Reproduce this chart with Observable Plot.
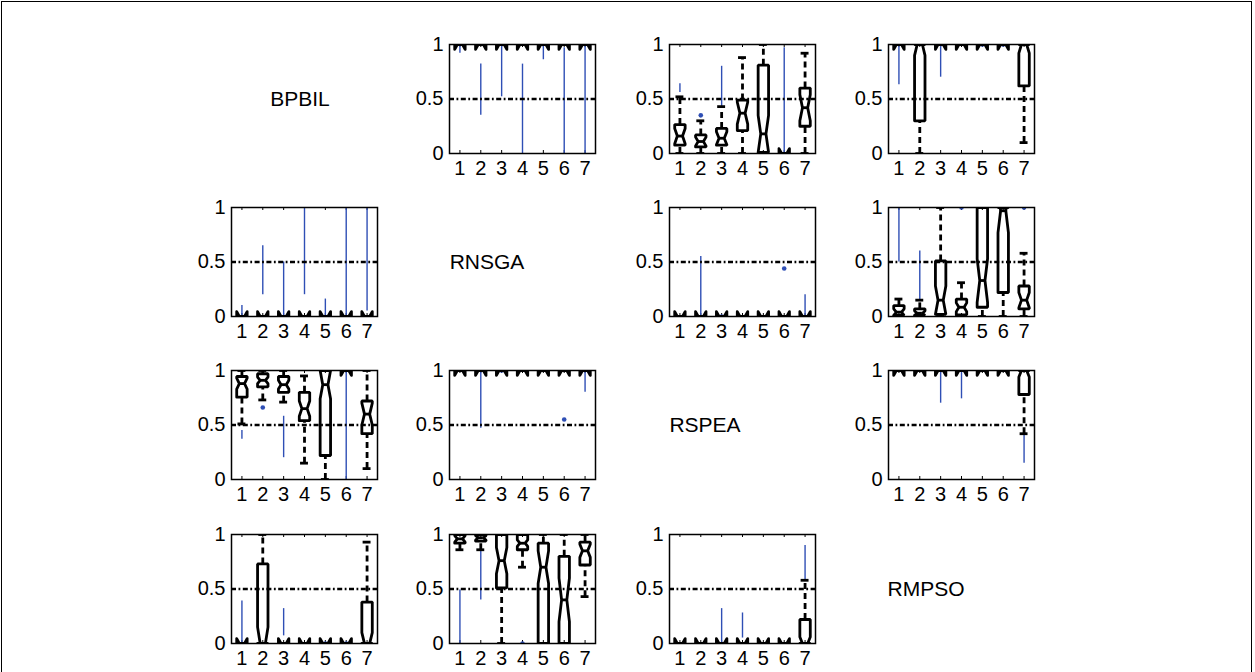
<!DOCTYPE html>
<html><head><meta charset="utf-8">
<script src="https://cdn.jsdelivr.net/npm/d3@7"></script>
<script src="https://cdn.jsdelivr.net/npm/@observablehq/plot@0.6"></script>
<style>
html,body{margin:0;padding:0;background:#fff;}
#fig{position:relative;width:1255px;height:672px;overflow:hidden;font-family:"Liberation Sans",Arial,sans-serif;background:#fff;}
.panel{position:absolute;}
.panel svg{overflow:visible;}
.name{position:absolute;font-size:21px;color:#000;transform:translate(-50%,-50%);white-space:nowrap;}
#border{position:absolute;left:1px;top:1px;width:1251px;height:720px;border:1.5px solid #000;box-sizing:border-box;}
</style></head><body><div id="fig"></div>
<script>
// ---------------- data ----------------
const algorithms = ["BPBIL", "RNSGA", "RSPEA", "RMPSO"];
const groups = [1, 2, 3, 4, 5, 6, 7];
const yTicks = [0, 0.5, 1];
const yTickLabels = ["0", "0.5", "1"];
// grid cell of each panel (row, column)
const panelRows = [0, 0, 0, 1, 1, 1, 2, 2, 2, 3, 3, 3];
const panelCols = [1, 2, 3, 0, 2, 3, 0, 1, 3, 0, 1, 2];
// box statistics, one row of 7 groups per panel
const q1 = [
  [1, 1, 1, 1, 1, 1, 1],
  [0.076, 0.06, 0.076, 0.21, 0.01, 0, 0.25],
  [1, 0.30, 1, 1, 1, 1, 0.62],
  [0, 0, 0, 0, 0, 0, 0],
  [0, 0, 0, 0, 0, 0, 0],
  [0.01, 0.01, 0.02, 0.015, 0.085, 0.22, 0.07],
  [0.755, 0.85, 0.80, 0.54, 0.22, 1, 0.42],
  [1, 1, 1, 1, 1, 1, 1],
  [1, 1, 1, 1, 1, 1, 0.78],
  [0, 0, 0, 0, 0, 0, 0],
  [0.92, 0.94, 0.51, 0.86, 0, 0, 0.72],
  [0, 0, 0, 0, 0, 0, 0]
];
const med = [
  [1, 1, 1, 1, 1, 1, 1],
  [0.16, 0.11, 0.14, 0.37, 0.18, 0, 0.42],
  [1, 1, 1, 1, 1, 1, 1],
  [0, 0, 0, 0, 0, 0, 0],
  [0, 0, 0, 0, 0, 0, 0],
  [0.04, 0.03, 0.15, 0.085, 0.33, 0.97, 0.15],
  [0.88, 0.91, 0.87, 0.65, 0.87, 1, 0.6],
  [1, 1, 1, 1, 1, 1, 1],
  [1, 1, 1, 1, 1, 1, 1],
  [0, 0, 0, 0, 0, 0, 0],
  [0.96, 0.97, 0.76, 0.92, 0.70, 0.4, 0.85],
  [0, 0, 0, 0, 0, 0, 0]
];
const q3 = [
  [1, 1, 1, 1, 1, 1, 1],
  [0.265, 0.17, 0.23, 0.49, 0.81, 0, 0.6],
  [1, 1, 1, 1, 1, 1, 1],
  [0, 0, 0, 0, 0, 0, 0],
  [0, 0, 0, 0, 0, 0, 0],
  [0.10, 0.07, 0.51, 0.16, 1, 1, 0.28],
  [0.945, 0.97, 0.945, 0.80, 1, 1, 0.72],
  [1, 1, 1, 1, 1, 1, 1],
  [1, 1, 1, 1, 1, 1, 1],
  [0, 0.73, 0, 0, 0, 0, 0.38],
  [1, 1, 1, 1, 0.92, 0.8, 0.93],
  [0, 0, 0, 0, 0, 0, 0.22]
];
const whiskLo = [
  [1, 1, 1, 1, 1, 1, 1],
  [0, 0, 0, 0, 0, 0, 0],
  [1, 0, 1, 1, 1, 1, 0.1],
  [0, 0, 0, 0, 0, 0, 0],
  [0, 0, 0, 0, 0, 0, 0],
  [0, 0, 0, 0, 0, 0, 0],
  [0.51, 0.73, 0.71, 0.15, 0, 1, 0.1],
  [1, 1, 1, 1, 1, 1, 1],
  [1, 1, 1, 1, 1, 1, 0.42],
  [0, 0, 0, 0, 0, 0, 0],
  [0.86, 0.86, 0, 0.70, 0, 0, 0.43],
  [0, 0, 0, 0, 0, 0, 0]
];
const whiskHi = [
  [1, 1, 1, 1, 1, 1, 1],
  [0.52, 0.30, 0.43, 0.88, 1, 0, 0.92],
  [1, 1, 1, 1, 1, 1, 1],
  [0, 0, 0, 0, 0, 0, 0],
  [0, 0, 0, 0, 0, 0, 0],
  [0.16, 0.15, 1, 0.31, 1, 1, 0.58],
  [1, 1, 1, 0.95, 1, 1, 1],
  [1, 1, 1, 1, 1, 1, 1],
  [1, 1, 1, 1, 1, 1, 1],
  [0, 1, 0, 0, 0, 0, 0.93],
  [1, 1, 1, 1, 1, 1, 1],
  [0, 0, 0, 0, 0, 0, 0.58]
];
const notch = [
  [0.045, 0.045, 0.045, 0.045, 0.045, 0.045, 0.045],
  [0.07, 0.04, 0.06, 0.10, 0.17, 0.045, 0.12],
  [0.045, 0.10, 0.045, 0.045, 0.045, 0.045, 0.08],
  [0.045, 0.045, 0.045, 0.045, 0.045, 0.045, 0.045],
  [0.045, 0.045, 0.045, 0.045, 0.045, 0.045, 0.045],
  [0.03, 0.02, 0.13, 0.04, 0.20, 0.20, 0.07],
  [0.05, 0.03, 0.04, 0.07, 0.13, 0.045, 0.10],
  [0.045, 0.045, 0.045, 0.045, 0.045, 0.045, 0.045],
  [0.045, 0.045, 0.045, 0.045, 0.045, 0.045, 0.06],
  [0.045, 0.15, 0.045, 0.045, 0.045, 0.045, 0.10],
  [0.03, 0.02, 0.12, 0.03, 0.15, 0.20, 0.06],
  [0.045, 0.045, 0.045, 0.045, 0.045, 0.045, 0.06]
];
// outliers: dense runs of "+" markers [panel, group, low, high]
const outlierRuns = [
  [0, 1, 0.92, 1], [0, 2, 0.35, 0.82], [0, 3, 0.52, 1], [0, 4, 0, 0.82], [0, 5, 0.86, 1], [0, 6, 0, 0.97], [0, 7, 0, 1],
  [1, 1, 0.56, 0.64], [1, 3, 0.43, 0.80], [1, 6, 0, 0.97],
  [2, 1, 0.63, 1], [2, 3, 0.70, 1],
  [3, 1, 0, 0.10], [3, 2, 0.20, 0.65], [3, 3, 0, 0.50], [3, 4, 0.20, 1], [3, 5, 0, 0.16], [3, 6, 0, 1], [3, 7, 0.05, 1],
  [4, 2, 0, 0.55], [4, 7, 0, 0.20],
  [5, 1, 0.50, 1], [5, 2, 0.15, 0.60],
  [6, 1, 0.37, 0.45], [6, 3, 0.20, 0.58], [6, 6, 0, 1],
  [7, 2, 0.47, 1], [7, 7, 0.80, 1],
  [8, 3, 0.70, 1], [8, 4, 0.74, 1], [8, 7, 0.15, 0.42],
  [9, 1, 0, 0.39], [9, 3, 0.07, 0.32],
  [10, 1, 0, 0.49], [10, 2, 0.40, 0.86],
  [11, 3, 0, 0.32], [11, 4, 0.05, 0.28], [11, 7, 0.58, 0.90]
];
// isolated outliers [panel, group, value]
const outlierDots = [
  [1, 2, 0.35], [2, 5, 1], [2, 6, 1], [4, 3, 0], [4, 6, 0.44], [5, 4, 1], [5, 7, 1],
  [6, 2, 0.66], [7, 3, 1], [7, 6, 0.55], [9, 5, 0], [9, 6, 0], [10, 4, 0]
];

// ---------------- layout ----------------
const colLeft = [231, 449, 669, 888];
const rowTop = [44, 207, 370, 534];
const nameCenterX = [300, 487, 705, 926];
const PW = 146, PH = 109;
const ML = 48, MR = 8, MT = 8, MB = 32;
const HW = 0.25;   // half box width (x units)
const CW = 0.19;   // half whisker-cap width
const BLUE = "#2f4fb5";

const fig = document.getElementById("fig");

for (let p = 0; p < panelRows.length; p++) {
  const boxes = [], solid = [], whisk = [], caps = [], meds = [];
  groups.forEach((g, i) => {
    const a = q1[p][i], m = med[p][i], b = q3[p][i], n = notch[p][i];
    const pts = [
      [g - HW, a], [g - HW, m - n], [g - HW / 2, m], [g - HW, m + n], [g - HW, b],
      [g + HW, b], [g + HW, m + n], [g + HW / 2, m], [g + HW, m - n], [g + HW, a], [g - HW, a]
    ];
    const target = a === b ? solid : boxes;
    pts.forEach(([x, y]) => target.push({x, y, g}));
    whisk.push({g, y1: b, y2: whiskHi[p][i]});
    whisk.push({g, y1: whiskLo[p][i], y2: a});
    caps.push({g, y: whiskHi[p][i]});
    caps.push({g, y: whiskLo[p][i]});
    meds.push({g, y: m});
  });
  const runs = outlierRuns.filter(d => d[0] === p).map(d => ({g: d[1], lo: d[2], hi: d[3]}));
  const dots = outlierDots.filter(d => d[0] === p).map(d => ({g: d[1], y: d[2]}));

  const chart = Plot.plot({
    width: PW + ML + MR, height: PH + MT + MB,
    marginLeft: ML, marginRight: MR, marginTop: MT, marginBottom: MB,
    style: {fontFamily: "Liberation Sans, Arial, sans-serif", fontSize: "20px", background: "transparent", color: "#000", overflow: "visible"},
    x: {domain: [0.5, 7.5]},
    y: {domain: [0, 1]},
    marks: [
      Plot.axisX(groups, {tickSize: 0, tickPadding: 7, tickFormat: d => String(d), fontSize: 20, label: null}),
      Plot.axisY(yTicks, {tickSize: 0, tickPadding: 6, tickFormat: d => yTickLabels[yTicks.indexOf(d)], fontSize: 20, label: null}),
      Plot.tickX(groups, {x: d => d, insetTop: PH - 3, stroke: "#000", strokeWidth: 1}),
      Plot.tickX(groups, {x: d => d, insetBottom: PH - 3, stroke: "#000", strokeWidth: 1}),
      Plot.tickY(yTicks, {y: d => d, insetRight: PW - 3, stroke: "#000", strokeWidth: 1}),
      Plot.ruleX(runs, {x: "g", y1: "lo", y2: "hi", stroke: BLUE, strokeWidth: 1.4, clip: true}),
      Plot.dot(dots, {x: "g", y: "y", r: 2.3, fill: BLUE, stroke: null, clip: true}),
      Plot.ruleX(whisk, {x: "g", y1: "y1", y2: "y2", stroke: "#000", strokeWidth: 2.8, strokeDasharray: "6,4", clip: true}),
      Plot.ruleY(caps, {y: "y", x1: d => d.g - CW, x2: d => d.g + CW, stroke: "#000", strokeWidth: 2.8, clip: true}),
      Plot.line(boxes, {x: "x", y: "y", z: "g", stroke: "#000", strokeWidth: 2.8, strokeLinejoin: "miter", clip: true}),
      Plot.line(solid, {x: "x", y: "y", z: "g", stroke: "#000", fill: "#000", strokeWidth: 2.8, clip: true}),
      Plot.ruleY(meds, {y: "y", x1: d => d.g - HW / 2, x2: d => d.g + HW / 2, stroke: "#000", strokeWidth: 2.8, clip: true}),
      Plot.ruleY([0.5], {y: d => d, stroke: "#000", strokeWidth: 2.4, strokeDasharray: "5,2.5,1.8,2.5"}),
      Plot.frame({stroke: "#000", strokeWidth: 1.5})
    ]
  });
  const div = document.createElement("div");
  div.className = "panel";
  div.style.left = (colLeft[panelCols[p]] - ML) + "px";
  div.style.top = (rowTop[panelRows[p]] - MT) + "px";
  div.appendChild(chart);
  fig.appendChild(div);
}

// algorithm names on the diagonal
algorithms.forEach((name, k) => {
  const t = document.createElement("div");
  t.className = "name";
  t.textContent = name;
  t.style.left = nameCenterX[k] + "px";
  t.style.top = (rowTop[k] + PH / 2) + "px";
  fig.appendChild(t);
});

const border = document.createElement("div");
border.id = "border";
fig.appendChild(border);
</script>
</body></html>
